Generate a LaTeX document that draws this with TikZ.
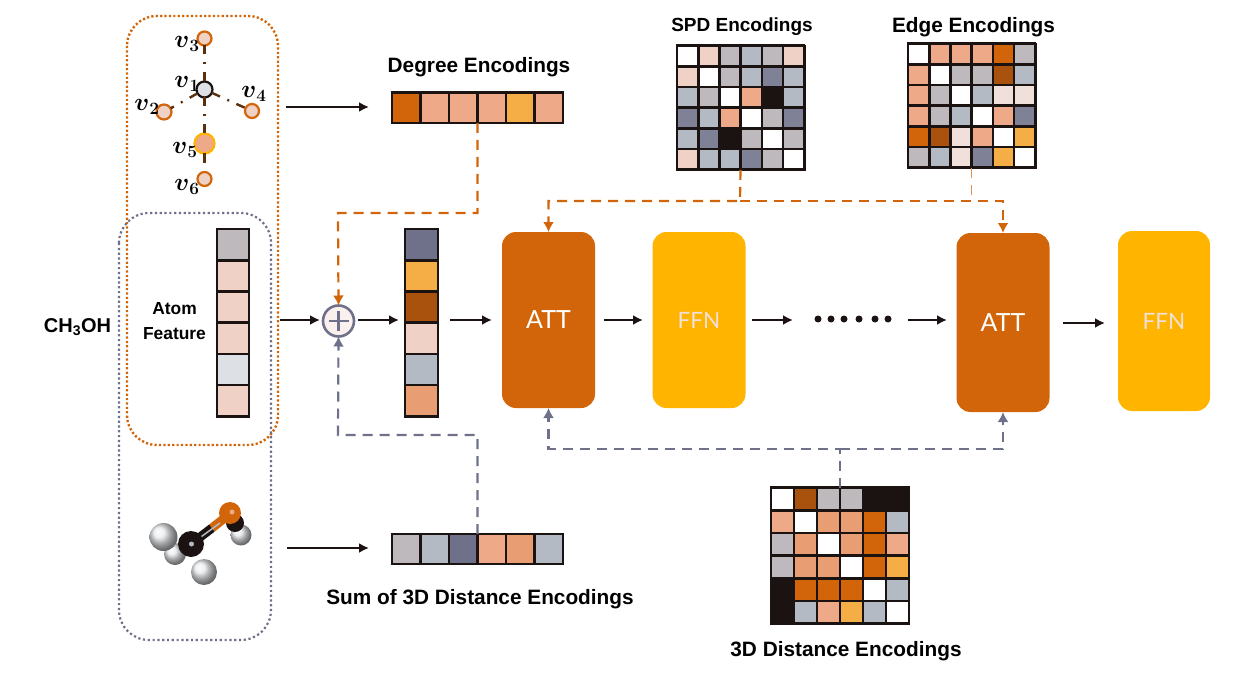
\documentclass[tikz,border=0pt]{standalone}
\usepackage{amsmath,amssymb}
\usepackage{fontspec}
\setmainfont{Liberation Sans}
\newfontfamily\boxfont{Lato}
\usetikzlibrary{arrows.meta,calc,shadings}
\definecolor{cO}{HTML}{D2650A}
\definecolor{cP}{HTML}{EDA988}
\definecolor{cL}{HTML}{EFD1C6}
\definecolor{cG}{HTML}{B3BAC4}
\definecolor{cS}{HTML}{6E7189}
\definecolor{cY}{HTML}{FFB400}
\definecolor{cK}{HTML}{1B1312}
\definecolor{cW}{HTML}{FFFFFF}
\definecolor{cQ}{HTML}{BDB9BD}
\definecolor{cT}{HTML}{7F8296}
\definecolor{cD}{HTML}{A8520E}
\definecolor{cR}{HTML}{F0DFDA}
\definecolor{cE}{HTML}{E89E72}
\definecolor{cA}{HTML}{F5AE45}
\definecolor{cN}{HTML}{DDE0E4}
\tikzset{l/.style={font=\fontsize{20.8}{20.8}\selectfont\bfseries}}
\tikzset{m/.style={font=\fontsize{17.4}{25}\selectfont\bfseries,align=center}}
\tikzset{v/.style={font=\fontsize{23}{23}\selectfont,inner sep=0pt}}
\tikzset{enc/.style={draw=cK,line width=2.6pt,inner sep=0pt,outer sep=0pt}}
\tikzset{blk/.style={rounded corners=14pt,inner sep=0pt,outer sep=0pt,minimum width=93pt,minimum height=176pt,text=white,font=\fontsize{25}{25}\selectfont\boxfont}}
\tikzset{ffn/.style={blk,fill=cY,text=cR,font=\fontsize{22.5}{22.5}\selectfont\boxfont}}
\tikzset{atom/.style={circle,draw=cO,line width=2.2pt,fill=cL,inner sep=0pt,outer sep=0pt}}
\tikzset{go/.style={-{Latex[length=10pt,width=10pt]},cK,line width=2.2pt}}
\tikzset{dO/.style={-{Latex[length=10pt,width=11pt]},cO,line width=2.2pt,dash pattern=on 10pt off 7pt}}
\tikzset{dS/.style={-{Latex[length=10pt,width=11pt]},cS,line width=2.2pt,dash pattern=on 10pt off 7pt}}
\tikzset{bond/.style={cK!65!cO,line width=2.4pt,dash pattern=on 9pt off 8pt on 2pt off 8pt on 9pt off 30pt}}
\tikzset{hyd/.style={ball color=cG!30!white}}
% rows of cells, from the top left corner
\newcommand{\cells}[5]{
  \foreach \row [count=\j from 0] in {#5} {
    \foreach \c [count=\i from 0] in \row {
      \fill[c\c] (#1+\i*#3,#2+\j*#4) rectangle ++(#3,#4);
      \draw[cK,line width=2.6pt] (#1+\i*#3,#2+\j*#4) rectangle ++(#3,#4);
    }
  }
}
\begin{document}
\begin{tikzpicture}[x=1pt,y=-1pt]
  \path[use as bounding box] (0,0) rectangle (1234,674);
  % encodings
  \cells{392}{92.5}{28.5}{30.5}{{O,P,P,P,A,P}}
  \node [enc,minimum width=171pt,minimum height=30.5pt] (DEG) at (477.5,107.7) {};
  \cells{392}{534}{28.5}{30}{{Q,G,S,P,E,G}}
  \node [enc,minimum width=171pt,minimum height=30pt] (SUM) at (477.5,549) {};
  \cells{217}{229}{32}{31.2}{{Q},{L},{L},{L},{N},{L}}
  \cells{405}{229}{33}{31.2}{{S},{A},{D},{L},{G},{E}}
  \node [enc,minimum width=33pt,minimum height=187pt] (COL) at (421.5,322.5) {};
  \cells{677}{46}{21.2}{20.6}{{W,L,Q,G,Q,L},{L,W,Q,G,T,G},{G,Q,W,P,K,G},{T,G,P,W,Q,T},{G,T,K,Q,W,Q},{L,G,G,T,Q,W}}
  \node [enc,minimum width=127pt,minimum height=124pt] (SPD) at (740.5,107.8) {};
  \cells{908}{44}{21.2}{20.6}{{W,P,P,P,O,Q},{P,W,Q,Q,D,G},{P,Q,W,G,R,R},{P,Q,G,W,P,T},{O,D,R,P,W,A},{Q,G,R,T,A,W}}
  \node [enc,minimum width=127pt,minimum height=124pt] (EDGE) at (971.5,105.8) {};
  \cells{771}{487.5}{23}{22.7}{{W,D,Q,Q,K,K},{P,W,E,E,O,G},{Q,E,W,E,O,P},{Q,E,E,W,O,A},{K,O,O,O,W,G},{K,G,P,A,G,W}}
  \node [enc,minimum width=138pt,minimum height=136pt] (DIS) at (840,555.5) {};
  % labels
  \node [l] at (479,67) {Degree Encodings};
  \node [l,font=\fontsize{19}{19}\selectfont\bfseries] at (742,27) {SPD Encodings};
  \node [l] at (973.5,27) {Edge Encodings};
  \node [l] at (480,599) {Sum of 3D Distance Encodings};
  \node [l] at (846,651) {3D Distance Encodings};
  \node [l,font=\fontsize{20}{20}\selectfont\bfseries] at (77.5,327) {CH\textsubscript{3}OH};
  \node [m] at (174.5,321) {Atom\\Feature};
  % dotted frames
  \draw [cO,line width=2.4pt,dash pattern=on 2.2pt off 2.2pt,rounded corners=30pt] (127,16) rectangle (278,445);
  \draw [cS,line width=2.2pt,dash pattern=on 2.2pt off 2.6pt,rounded corners=30pt] (119,213) rectangle (271,640);
  % graph
  \node [atom,minimum size=14pt] (V3) at (204.5,38.5) {};
  \node [atom,draw=cK,fill=cN,minimum size=16pt] (V1) at (204.5,89.5) {};
  \node [atom,minimum size=15pt] (V2) at (164,112) {};
  \node [atom,minimum size=14pt] (V4) at (252,111) {};
  \node [atom,draw=cY,minimum size=20pt,fill=cP] (V5) at (204.5,143.5) {};
  \node [atom,minimum size=14pt] (V6) at (204.5,179) {};
  \draw [bond] (V1) -- (V3);
  \draw [bond] (V1) -- (V2);
  \draw [bond] (V1) -- (V4);
  \draw [bond] (V1) -- (V5);
  \draw [bond,dash pattern=on 9pt off 30pt] (V5) -- (V6);
  \node [v] at (187,44) {$\boldsymbol{v}_{\boldsymbol{3}}$};
  \node [v] at (187,84) {$\boldsymbol{v}_{\boldsymbol{1}}$};
  \node [v] at (147,107) {$\boldsymbol{v}_{\boldsymbol{2}}$};
  \node [v] at (254,94) {$\boldsymbol{v}_{\boldsymbol{4}}$};
  \node [v] at (185,150) {$\boldsymbol{v}_{\boldsymbol{5}}$};
  \node [v] at (187,187) {$\boldsymbol{v}_{\boldsymbol{6}}$};
  % molecule
  \shade [hyd] (175,554) circle (11);
  \shade [hyd] (241,535) circle (10.5);
  \fill [cK] (235,523) circle (9);
  \draw [cK,line width=9pt] (191,544) -- (212,528);
  \draw [cO,line width=9pt] (212,528) -- (226,517);
  \draw [cG,line width=1.5pt] (194,542) -- (220,523);
  \fill [cO] (230,513) circle (11);
  \fill [cP] (232,512) circle (2.5);
  \shade [hyd] (163.5,537) circle (14);
  \fill [cK] (191,544) circle (13);
  \fill [cG] (191.5,544) circle (2.5);
  \shade [hyd] (204,572) circle (13);
  % blocks
  \node [blk,fill=cO] (ATT) at (548.5,320) {ATT};
  \node [ffn] (FFN) at (699,320) {FFN};
  \node [blk,fill=cO,minimum height=179pt] (ATTB) at (1003,322.5) {ATT};
  \node [ffn,minimum height=180pt,minimum width=92pt] (FFNB) at (1164,321) {FFN};
  \foreach \x in {818,831,844,859,875,888}
    \fill [cK] (\x,319) circle (3.5);
  % plus
  \node [circle,draw=cS,line width=2.6pt,fill=cL!30,minimum size=31pt,inner sep=0pt,outer sep=0pt] (PLUS) at (338.5,321) {};
  \draw [cS,line width=2.6pt] (PLUS.center) ++(-10,0) -- ++(20,0) (PLUS.center) ++(0,-10) -- ++(0,20);
  % free ends of the solid arrows
  \coordinate (a1) at (286,107);
  \coordinate (a2) at (369,107);
  \coordinate (b1) at (287,548);
  \coordinate (b2) at (369,548);
  \coordinate (c1) at (280,320);
  \coordinate (c2) at (320,320);
  \coordinate (d1) at (358,320);
  \coordinate (d2) at (399,320);
  \coordinate (e1) at (450,320);
  \coordinate (e2) at (492,320);
  \coordinate (f1) at (604,320);
  \coordinate (f2) at (643,320);
  \coordinate (g1) at (752,320);
  \coordinate (g2) at (793,320);
  \coordinate (h1) at (908,320);
  \coordinate (h2) at (947,320);
  \coordinate (i1) at (1063,323);
  \coordinate (i2) at (1105,323);
  \foreach \s/\t in {a1/a2,b1/b2,c1/c2,d1/d2,e1/e2,f1/f2,g1/g2,h1/h2,i1/i2}
    \draw [go] (\s) -- (\t);
  % dashed feeds
  \coordinate (p) at (338,213);
  \coordinate (q) at (338,435);
  \draw [dO] (DEG.south) -- (DEG.south |- p) -- (p) -- (PLUS.north);
  \draw [dS] (SUM.north) -- (SUM.north |- q) -- (q) -- (PLUS.south);
  \coordinate (r) at (740,201);
  \coordinate (s) at (840,449);
  \draw [dO] (SPD.south) -- (r) -- (r -| ATT.north) -- (ATT.north);
  \draw [dO] (r) -- (r -| ATTB.north) -- (ATTB.north);
  \draw [cO!70,line width=1.2pt,dash pattern=on 10pt off 7pt] (EDGE.south) -- (EDGE.south |- r);
  \draw [dS] (DIS.north) -- (s) -- (s -| ATT.south) -- (ATT.south);
  \draw [dS] (s) -- (s -| ATTB.south) -- (ATTB.south);
\end{tikzpicture}
\end{document}
